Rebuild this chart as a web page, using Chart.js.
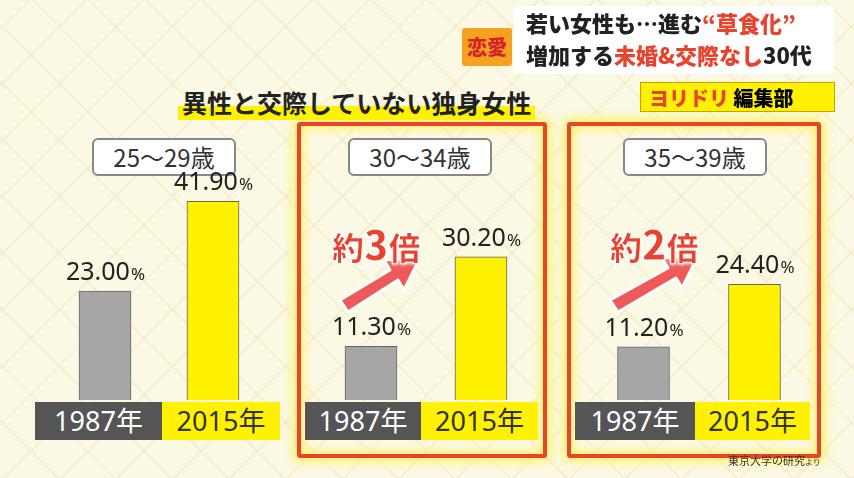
<!DOCTYPE html>
<html><head><meta charset="utf-8">
<script src="https://cdn.jsdelivr.net/npm/chart.js@4"></script>
<style>
body{margin:0;width:854px;height:478px;overflow:hidden;font-family:"Noto Sans CJK JP","Noto Sans",sans-serif;
background:#fbf8e4;background-image:repeating-linear-gradient(45deg,rgba(240,230,190,.5) 0 2px,transparent 2px 40px),repeating-linear-gradient(-45deg,rgba(240,230,190,.5) 0 2px,transparent 2px 40px);position:relative}
.abs{position:absolute}
.frame{border:4px solid #e8432f;box-shadow:0 0 10px 4px #fff36a, inset 0 0 8px 3px #fff36a;border-radius:3px}
.age{background:#fff;border:2px solid #888;border-radius:6px;font-size:24px;color:#333;text-align:center;line-height:34px}
.lab{font-size:27px;text-align:center;line-height:38px;font-weight:400;font-family:"Noto Sans","Noto Sans CJK JP"}
.d{background:#555;color:#fff}.y{background:#fff200;color:#333}
.bai{color:#e8432f;font-weight:900;font-size:32px;-webkit-text-stroke:1px #fff;text-shadow:0 0 4px #fff,0 0 4px #fff}
</style></head><body>
<div class="abs frame" style="left:297px;top:122px;width:242px;height:328px"></div>
<div class="abs frame" style="left:567px;top:122px;width:246px;height:328px"></div>
<div class="abs" style="left:178px;top:84px;font-size:25px;font-weight:700;color:#222;background:linear-gradient(transparent 62%,#fff200 62%);padding:0 4px">異性と交際していない独身女性</div>
<div class="abs age" style="left:92px;top:138px;width:140px">25〜29歳</div>
<div class="abs age" style="left:348px;top:138px;width:140px">30〜34歳</div>
<div class="abs age" style="left:623px;top:138px;width:140px">35〜39歳</div>
<canvas id="c1" class="abs" style="left:51px;top:100px"></canvas>
<canvas id="c2" class="abs" style="left:316px;top:100px"></canvas>
<canvas id="c3" class="abs" style="left:588px;top:100px"></canvas>
<div class="abs lab d" style="left:35px;top:402px;width:127px">1987年</div>
<div class="abs lab y" style="left:162px;top:402px;width:118px">2015年</div>
<div class="abs lab d" style="left:305px;top:402px;width:116px">1987年</div>
<div class="abs lab y" style="left:421px;top:402px;width:117px">2015年</div>
<div class="abs lab d" style="left:575px;top:402px;width:120px">1987年</div>
<div class="abs lab y" style="left:695px;top:402px;width:115px">2015年</div>
<svg class="abs" style="left:0;top:0" width="854" height="478">
<path d="M340,300 L390,270 L384,260 L420,258 L404,290 L398,280 L348,312 Z" fill="#ee5a5a" stroke="#fff" stroke-width="3" stroke-linejoin="round"/>
<path d="M610,300 L668,268 L662,258 L698,256 L682,288 L676,278 L618,312 Z" fill="#ee5a5a" stroke="#fff" stroke-width="3" stroke-linejoin="round"/>
</svg>
<div class="abs bai" style="left:332px;top:214px">約<span style="font-size:40px">3</span>倍</div>
<div class="abs bai" style="left:610px;top:214px">約<span style="font-size:40px">2</span>倍</div>
<div class="abs" style="left:462px;top:28px;width:50px;height:38px;background:#f6a21e;color:#d2232a;font-weight:900;font-size:20px;text-align:center;line-height:38px;border-radius:3px">恋愛</div>
<div class="abs" style="left:514px;top:6px;width:320px;height:68px;background:#fff;border-radius:3px;font-weight:900;font-size:22px;line-height:32px;padding-left:12px;color:#222;box-sizing:border-box">若い女性も…進む<span style="color:#e8432f">“草食化”</span><br>増加する<span style="color:#e8432f">未婚&amp;交際なし</span>30代</div>
<div class="abs" style="left:640px;top:82px;width:195px;height:30px;background:#fff200;border:1px solid #c9a000;font-weight:900;font-size:20px;line-height:30px;padding-left:8px;box-sizing:border-box"><span style="color:#e8432f">ヨリドリ</span> 編集部</div>
<div class="abs" style="left:728px;top:452px;font-size:11px;color:#333">東京大学の研究<span style="font-size:8px">より</span></div>
<script>
const years=["1987年","2015年"];
const g1=[23.00,41.90];
const g2=[11.30,30.20];
const g3=[11.20,24.40];
const colors=["#a6a6a6","#fff200"];
const lbl={id:"lbl",afterDatasetsDraw(ch){const c=ch.ctx;const m=ch.getDatasetMeta(0);
m.data.forEach((b,i)=>{const v=ch.data.datasets[0].data[i].toFixed(2);c.save();c.fillStyle="#222";c.textBaseline="alphabetic";
c.font='400 25px "Noto Sans","Noto Sans CJK JP"';const w1=c.measureText(v).width;c.font='400 17px "Noto Sans"';const w2=c.measureText("%").width;
let x=b.x-(w1+w2)/2;c.font='400 25px "Noto Sans","Noto Sans CJK JP"';c.fillText(v,x,b.y-11);c.font='400 17px "Noto Sans"';c.fillText("%",x+w1+1,b.y-11);c.restore();});}};
function mk(id,data,w){const el=document.getElementById(id);el.width=w;el.height=300;el.style.width=w+"px";el.style.height="300px";
new Chart(el,{type:"bar",data:{labels:years,datasets:[{data:data,backgroundColor:colors,borderColor:"#666",borderWidth:1,barThickness:52}]},
options:{responsive:false,animation:false,maintainAspectRatio:false,layout:{padding:0},plugins:{legend:{display:false},tooltip:{enabled:false}},
scales:{x:{display:false},y:{display:false,min:0,max:63.3}}},plugins:[lbl]});}
mk("c1",g1,216);mk("c2",g2,220);mk("c3",g3,222);
</script></body></html>
